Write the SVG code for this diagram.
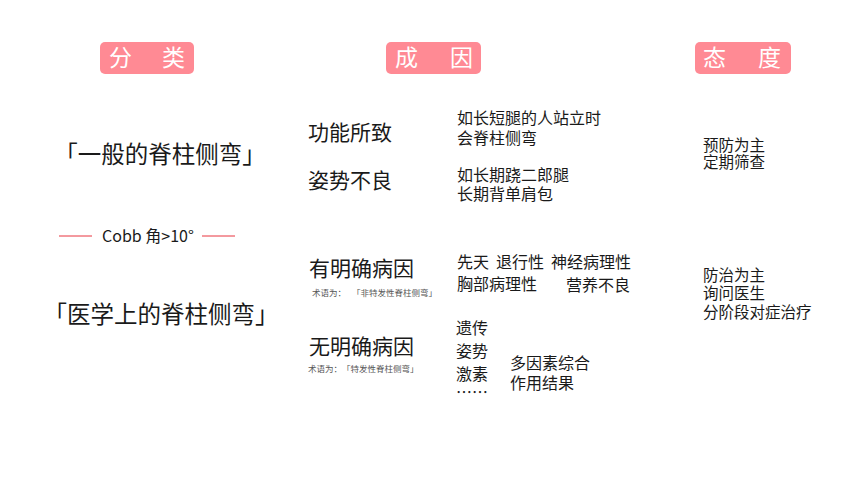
<svg xmlns="http://www.w3.org/2000/svg" width="862" height="478" viewBox="0 0 862 478">
<style>
text{font-family:"Noto Sans CJK SC","Noto Sans",sans-serif;fill:#1a1a1a}
.hd{fill:#ff8a94}
.ht{fill:#fff;font-size:23px}
.big{font-size:23.5px}
.mid{font-size:21px}
.sm{font-size:16px}
.s3{font-size:15.5px}
.tiny{font-size:8.5px;fill:#555}
.red{stroke:#e8353f;stroke-width:1}
</style>
<rect width="862" height="478" fill="#fff"/>
<g id="h1"><rect class="hd" x="100" y="42" width="94" height="32" rx="5"/><text class="ht" x="109 162" y="66">分类</text></g>
<g id="h2"><rect class="hd" x="386" y="42" width="95" height="32" rx="5"/><text class="ht" x="395 450" y="66">成因</text></g>
<g id="h3"><rect class="hd" x="695" y="42" width="96" height="32" rx="5"/><text class="ht" x="703 758" y="66">态度</text></g>
<g id="c1">
<text class="big" x="160" y="163" text-anchor="middle">「一般的脊柱侧弯」</text>
<line class="red" x1="59" y1="236" x2="92" y2="236"/>
<text x="148" y="242" text-anchor="middle" font-size="16">Cobb 角&gt;10°</text>
<line class="red" x1="202" y1="236" x2="235" y2="236"/>
<text class="big" x="161" y="323" text-anchor="middle">「医学上的脊柱侧弯」</text>
</g>
<g id="c2">
<text class="mid" x="308" y="140">功能所致</text>
<text class="sm" x="457" y="124">如长短腿的人站立时</text>
<text class="sm" x="457" y="144">会脊柱侧弯</text>
<text class="mid" x="308" y="188">姿势不良</text>
<text class="sm" x="457" y="181">如长期跷二郎腿</text>
<text class="sm" x="457" y="200">长期背单肩包</text>
<text class="mid" x="309" y="276">有明确病因</text>
<text class="tiny" x="312" y="296">术语为：</text>
<text class="tiny" x="352" y="296">「非特发性脊柱侧弯」</text>
<text class="sm" x="457" y="268">先天</text>
<text class="sm" x="496" y="268">退行性</text>
<text class="sm" x="551" y="268">神经病理性</text>
<text class="sm" x="457" y="290">胸部病理性</text>
<text class="sm" x="566" y="291">营养不良</text>
<text class="mid" x="309" y="354">无明确病因</text>
<text class="tiny" x="308" y="372">术语为：</text>
<text class="tiny" x="342" y="372">「特发性脊柱侧弯」</text>
<text class="sm" x="456" y="334">遗传</text>
<text class="sm" x="456" y="357">姿势</text>
<text class="sm" x="456" y="380">激素</text>
<text class="sm" x="456" y="398">……</text>
<text class="sm" x="510" y="369">多因素综合</text>
<text class="sm" x="510" y="389">作用结果</text>
</g>
<g id="c3">
<text class="s3" x="703" y="151">预防为主</text>
<text class="s3" x="703" y="168">定期筛查</text>
<text class="s3" x="703" y="281">防治为主</text>
<text class="s3" x="703" y="299">询问医生</text>
<text class="s3" x="703" y="318">分阶段对症治疗</text>
</g>
</svg>
